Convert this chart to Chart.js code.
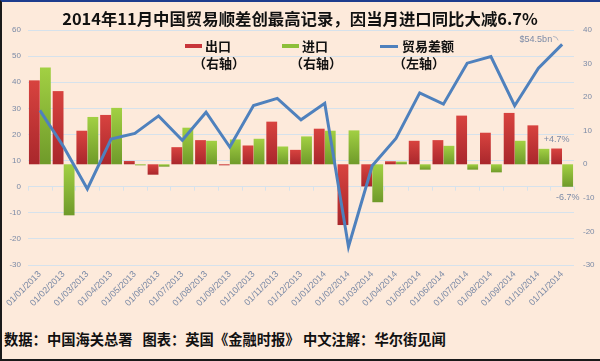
<!DOCTYPE html>
<html>
<head>
<meta charset="utf-8">
<script src="https://cdn.jsdelivr.net/npm/chart.js@4/dist/chart.umd.min.js"></script>
<style>
  html, body { margin: 0; padding: 0; }
  body {
    width: 600px; height: 361px; overflow: hidden; position: relative;
    background: #fdeadb; font-family: "Noto Sans CJK SC", "Noto Sans", sans-serif;
  }
  #frame {
    position: absolute; left: 0; top: 0; width: 600px; height: 361px; box-sizing: border-box;
    border-top: 2px solid #1d3d8e; border-left: 2px solid #1a1a1a; border-bottom: 2px solid #1a1a1a;
    pointer-events: none;
  }
  #title {
    position: absolute; left: 0; top: 6px; width: 600px; text-align: center;
    font-size: 16.4px; font-weight: bold; color: #111;
  }
  #wrap { position: absolute; left: 0; top: 0; width: 600px; height: 320px; }
  #footer {
    position: absolute; left: 4px; top: 328px; font-size: 14.3px; font-weight: bold; color: #111;
    white-space: pre;
  }
  .lg { position: absolute; font-size: 13px; font-weight: bold; color: #111; line-height: 16px; }
  .sw { position: absolute; }
</style>
</head>
<body>
<div id="wrap"><canvas id="chart"></canvas></div>
<div id="title">2014年11月中国贸易顺差创最高记录，因当月进口同比大减6.7%</div>

<div class="sw" style="left:185px;top:44px;width:17px;height:4px;background:#c8353a"></div>
<div class="lg" style="left:205px;top:38px">出口</div>
<div class="lg" style="left:193px;top:55px">（右轴）</div>

<div class="sw" style="left:282px;top:44px;width:17px;height:4px;background:#8cbf3a"></div>
<div class="lg" style="left:302px;top:38px">进口</div>
<div class="lg" style="left:290px;top:55px">（右轴）</div>

<div class="sw" style="left:380px;top:45px;width:18px;height:3px;background:#4f81bd"></div>
<div class="lg" style="left:402px;top:38px">贸易差额</div>
<div class="lg" style="left:393px;top:55px">（左轴）</div>

<div id="footer">数据：中国海关总署   图表：英国《金融时报》 中文注解：华尔街见闻</div>
<div id="frame"></div>

<script>
// ── Data ──────────────────────────────────────────────────
const months = [
  '01/01/2013', '01/02/2013', '01/03/2013', '01/04/2013', '01/05/2013', '01/06/2013',
  '01/07/2013', '01/08/2013', '01/09/2013', '01/10/2013', '01/11/2013', '01/12/2013',
  '01/01/2014', '01/02/2014', '01/03/2014', '01/04/2014', '01/05/2014', '01/06/2014',
  '01/07/2014', '01/08/2014', '01/09/2014', '01/10/2014', '01/11/2014',
];
// exports / imports, % yoy (right axis)
const exportsYoY = [25.0, 21.8, 10.0, 14.7, 1.0, -3.1, 5.1, 7.2, -0.3, 5.6, 12.7, 4.3,
  10.6, -18.1, -6.6, 0.9, 7.0, 7.2, 14.5, 9.4, 15.3, 11.6, 4.7];
const importsYoY = [28.8, -15.2, 14.1, 16.8, -0.3, -0.7, 10.9, 7.0, 7.4, 7.6, 5.3, 8.3,
  10.0, 10.1, -11.3, 0.8, -1.6, 5.5, -1.6, -2.4, 7.0, 4.6, -6.7];
// trade balance, $bn (left axis)
const tradeBalance = [29.2, 15.3, -0.9, 18.2, 20.4, 27.1, 17.8, 28.5, 15.2, 31.1, 33.8, 25.6,
  31.9, -23.0, 8.0, 18.5, 35.9, 31.6, 47.3, 49.8, 31.0, 45.4, 54.5];
const leftTicks = { min: -30, max: 60, step: 10 };
const rightTicks = { min: -30, max: 40, step: 10 };

const GRID = '#d6e2ec';
const TICK = '#7b8aa6';

// vertical gradient per bar, light at top, dark at bottom
function barGradient(light, dark) {
  return (c) => {
    const chart = c.chart;
    if (!chart.chartArea || c.type !== 'data') return light;
    const y2 = chart.scales.y2;
    const v = c.dataset.data[c.dataIndex];
    const a = y2.getPixelForValue(Math.max(v, 0));
    const b = y2.getPixelForValue(Math.min(v, 0));
    if (!isFinite(a) || !isFinite(b) || Math.abs(a - b) < 1) return dark;
    const g = chart.ctx.createLinearGradient(0, a, 0, b);
    g.addColorStop(0, light);
    g.addColorStop(1, dark);
    return g;
  };
}

// small ticks on the zero line + value notes
const extras = {
  id: 'extras',
  beforeDatasetsDraw(chart) {
    const { ctx, scales: { x, y } } = chart;
    const y0 = y.getPixelForValue(0);
    const half = (x.getPixelForValue(1) - x.getPixelForValue(0)) / 2;
    ctx.save();
    ctx.strokeStyle = GRID;
    ctx.lineWidth = 1;
    for (let i = 0; i <= months.length; i++) {
      const px = Math.round(x.getPixelForValue(0) - half + i * half * 2) + 0.5;
      ctx.beginPath();
      ctx.moveTo(px, y0);
      ctx.lineTo(px, y0 + 4);
      ctx.stroke();
    }
    ctx.restore();
  },
  afterDatasetsDraw(chart) {
    const { ctx, scales: { x, y, y2 } } = chart;
    const last = months.length - 1;
    const meta0 = chart.getDatasetMeta(1);
    const meta1 = chart.getDatasetMeta(2);
    ctx.save();
    ctx.font = '9px "Liberation Sans", sans-serif';
    ctx.fillStyle = TICK;
    ctx.textBaseline = 'middle';

    // $54.5bn
    const lx = x.getPixelForValue(last);
    const ly = y.getPixelForValue(tradeBalance[last]);
    ctx.textAlign = 'right';
    ctx.fillText('$' + tradeBalance[last] + 'bn', lx - 10, ly - 5);
    ctx.strokeStyle = '#9aa6bb';
    ctx.lineWidth = 0.8;
    ctx.beginPath();
    ctx.moveTo(lx - 9, ly - 8);
    ctx.quadraticCurveTo(lx - 5, ly - 8, lx - 4, ly - 4);
    ctx.stroke();

    // +4.7% above last export bar, -6.7% below last import bar
    ctx.textAlign = 'center';
    const eb = meta0.data[last];
    ctx.fillText('+' + exportsYoY[last] + '%', eb.x, y2.getPixelForValue(exportsYoY[last]) - 9);
    const ib = meta1.data[last];
    ctx.fillText(importsYoY[last] + '%', ib.x, y2.getPixelForValue(importsYoY[last]) + 11);
    ctx.restore();
  },
};

new Chart(document.getElementById('chart'), {
  data: {
    labels: months,
    datasets: [
      {
        type: 'line', label: '贸易差额', data: tradeBalance, yAxisID: 'y',
        borderColor: '#4f81bd', borderWidth: 3, pointRadius: 0, tension: 0, order: 0,
      },
      {
        type: 'bar', label: '出口', data: exportsYoY, yAxisID: 'y2',
        backgroundColor: barGradient('#d8433f', '#a9272c'),
        categoryPercentage: 0.93, barPercentage: 0.98, order: 1,
      },
      {
        type: 'bar', label: '进口', data: importsYoY, yAxisID: 'y2',
        backgroundColor: barGradient('#a2d043', '#6f9a2a'),
        categoryPercentage: 0.93, barPercentage: 0.98, order: 1,
      },
    ],
  },
  options: {
    responsive: true,
    maintainAspectRatio: false,
    animation: false,
    layout: { padding: { top: 30, left: 0, right: 0, bottom: 0 } },
    plugins: { legend: { display: false }, tooltip: { enabled: false } },
    scales: {
      x: {
        grid: { display: false, drawTicks: false },
        border: { display: false },
        ticks: {
          color: TICK, font: { size: 9, family: 'Liberation Sans' },
          minRotation: 45, maxRotation: 45, padding: 4, autoSkip: false,
        },
        afterFit(s) { s.height = 55; },
      },
      y: {
        position: 'left',
        min: leftTicks.min, max: leftTicks.max,
        grid: { color: GRID, drawTicks: false },
        border: { display: false },
        ticks: { stepSize: leftTicks.step, color: TICK, padding: 7, font: { size: 8, family: 'Liberation Sans' } },
        afterFit(s) { s.width = 28; },
      },
      y2: {
        position: 'right',
        min: rightTicks.min, max: rightTicks.max,
        grid: { display: false, drawTicks: false },
        border: { display: false },
        ticks: { stepSize: rightTicks.step, color: TICK, padding: 9, font: { size: 8, family: 'Liberation Sans' } },
        afterFit(s) { s.width = 26; },
      },
    },
  },
  plugins: [extras],
});
</script>
</body>
</html>
